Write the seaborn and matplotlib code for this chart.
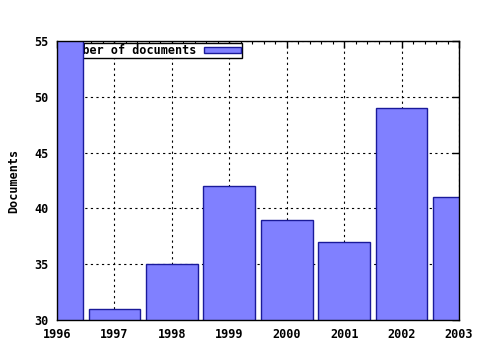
import matplotlib
matplotlib.use("Agg")
import matplotlib.pyplot as plt
import seaborn as sns
import pandas as pd
from matplotlib.ticker import MultipleLocator, FuncFormatter

years = [1996, 1997, 1998, 1999, 2000, 2001, 2002, 2003]
documents = [57, 31, 35, 42, 39, 37, 49, 41]
series_label = "Number of documents"

sns.set_style("white")
plt.rcParams['font.family'] = ['DejaVu Sans Mono']
plt.rcParams['font.weight'] = 'bold'
plt.rcParams['text.color'] = 'black'
plt.rcParams['axes.labelcolor'] = 'black'
plt.rcParams['xtick.color'] = 'black'
plt.rcParams['ytick.color'] = 'black'

df = pd.DataFrame({"year": years, "docs": documents})

fig = plt.figure(figsize=(4.8, 3.5), dpi=100)
ax = fig.add_axes([57/480, 1 - 320/350, (459-57)/480, (320-41)/350])

sns.barplot(data=df, x="year", y="docs", native_scale=True, width=0.9,
            color="#8080ff", edgecolor="#1a1a9a", linewidth=1.0, saturation=1,
            label=series_label, ax=ax, zorder=3)

ax.set_xlim(1996, 2003)
ax.set_ylim(30, 55)
ax.xaxis.set_major_locator(MultipleLocator(1))
ax.xaxis.set_minor_locator(MultipleLocator(0.2))
ax.yaxis.set_major_locator(MultipleLocator(5))
ax.xaxis.set_major_formatter(FuncFormatter(lambda v, p: f"{int(round(v))}"))

ax.grid(True, which="major", color="black", linestyle=(0, (2, 3)), linewidth=0.8, zorder=0)
ax.set_axisbelow(True)
ax.tick_params(which="major", direction="in", length=5, width=1, top=True, right=True,
               labelsize=8.5, pad=6, color="black", labelcolor="black")
ax.tick_params(which="minor", direction="in", length=2.5, width=0.8, top=True, bottom=True,
               color="black")
for lab in ax.get_xticklabels() + ax.get_yticklabels():
    lab.set_fontweight("bold")
for s in ax.spines.values():
    s.set_color("black")
    s.set_linewidth(1)
    s.set_zorder(5)

ax.set_xlabel("")
ax.set_ylabel("Documents", fontsize=8.5, fontweight="bold", labelpad=10, color="black")

leg = ax.legend(loc="upper right", bbox_to_anchor=((242-57)/402, 1 - 2/279),
                markerfirst=False, frameon=True, fancybox=False, framealpha=1,
                edgecolor="black", prop={"size": 8.5, "weight": "bold"},
                handlelength=3.1, handleheight=0.5,
                borderpad=0.1, borderaxespad=0, handletextpad=0.7)
leg.get_frame().set_linewidth(1)
for t in leg.get_texts():
    t.set_color("black")
leg.set_zorder(2)

fig.savefig("out.png", dpi=100)
